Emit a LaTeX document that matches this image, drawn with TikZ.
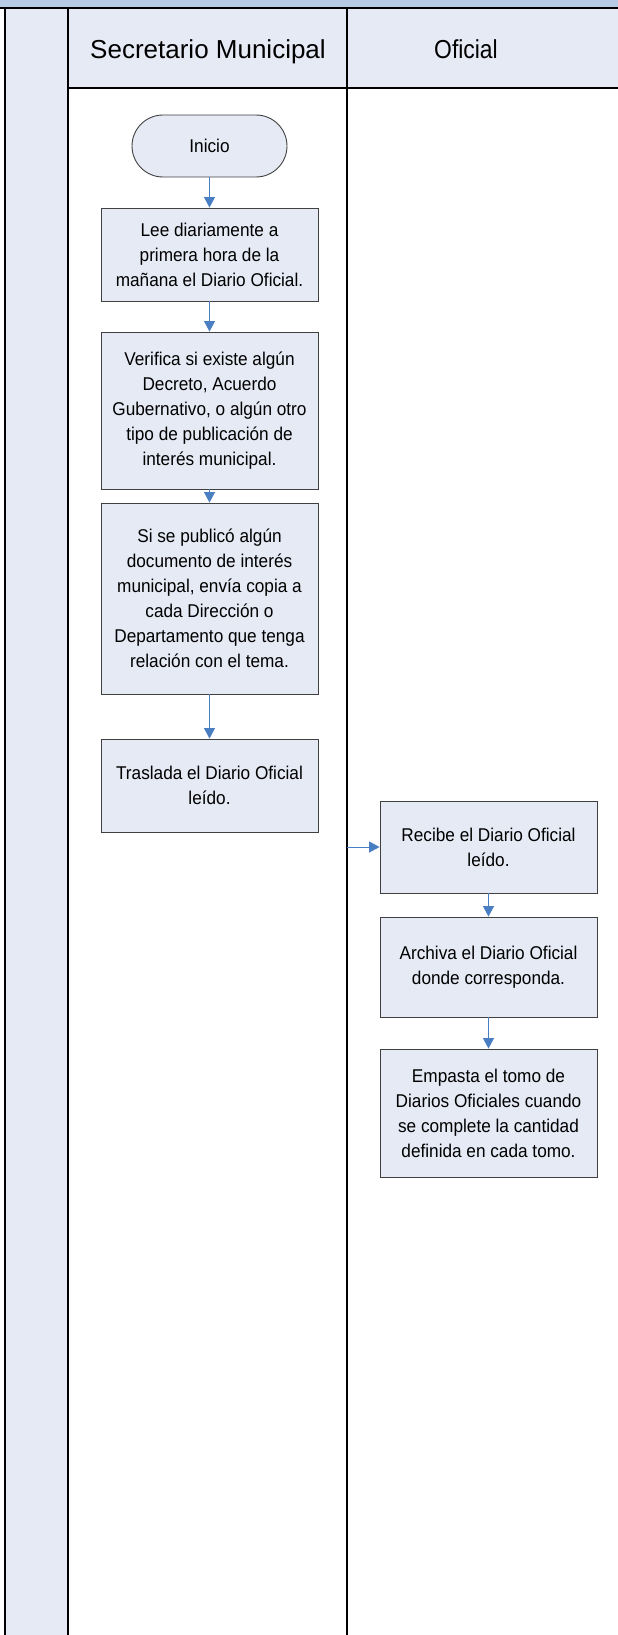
\documentclass[tikz,border=0pt]{standalone}
\usepackage{fontspec}
\setmainfont{Liberation Sans}
\newfontfamily\boxfont{Liberation Sans}[FakeStretch=0.93]
\usetikzlibrary{arrows.meta}
\definecolor{bandblue}{HTML}{B8CBE4}
\definecolor{lav}{HTML}{E6EAF5}
\definecolor{arrowblue}{HTML}{4A7EC3}
\definecolor{boxline}{HTML}{404040}
\tikzset{
  procbox/.style={draw=boxline, line width=0.9pt, fill=lav, minimum width=217pt, inner sep=0pt, align=center, font=\boxfont\fontsize{18.5}{25}\selectfont},
  startbox/.style={draw=boxline, line width=0.9pt, fill=lav, minimum width=155pt, minimum height=62pt, rounded corners=31pt, inner sep=0pt, align=center, font=\boxfont\fontsize{18.5}{25}\selectfont},
  flow/.style={draw=arrowblue, line width=1pt, -{Triangle[length=10.5pt,width=11pt]}},
  laneline/.style={draw=black, line width=1.3pt},
  headtext/.style={font=\fontsize{26}{30}\selectfont, inner sep=0pt, anchor=base}
}
\begin{document}
\begin{tikzpicture}[x=1pt,y=-1pt]
\useasboundingbox (0,0) rectangle (618,1635);
% backgrounds
\fill[bandblue] (0,0) rectangle (618,8);
\fill[lav] (5,8) rectangle (68,1635);
\fill[lav] (68,8) rectangle (618,88);
% lane lines
\draw[laneline] (0,8) -- (618,8);
\draw[laneline] (5,8) -- (5,1635);
\draw[laneline] (68,8) -- (68,1635);
\draw[laneline] (347,8) -- (347,1635);
\draw[laneline] (68,88) -- (618,88);
% headers
\node[headtext] (h1) at (208,59) {Secretario Municipal};
\node[headtext, xscale=0.88] (h2) at (466,59) {Oficial};
% nodes
\node[startbox] (inicio) at (209.5,146) {Inicio};
\node[procbox, minimum height=93pt] (lee) at (209.5,254.5) {Lee diariamente a\\primera hora de la\\mañana el Diario Oficial.};
\node[procbox, minimum height=157pt] (verifica) at (209.5,410.5) {Verifica si existe algún\\Decreto, Acuerdo\\Gubernativo, o algún otro\\tipo de publicación de\\interés municipal.};
\node[procbox, minimum height=191pt] (envia) at (209.5,598.5) {Si se publicó algún\\documento de interés\\municipal, envía copia a\\cada Dirección o\\Departamento que tenga\\relación con el tema.};
\node[procbox, minimum height=93pt] (traslada) at (209.5,785.5) {Traslada el Diario Oficial\\leído.};
\node[procbox, minimum height=92pt] (recibe) at (488.5,847) {Recibe el Diario Oficial\\leído.};
\node[procbox, minimum height=100pt] (archiva) at (488.5,967) {Archiva el Diario Oficial\\donde corresponda.};
\node[procbox, minimum height=128pt] (empasta) at (488.5,1113) {Empasta el tomo de\\Diarios Oficiales cuando\\se complete la cantidad\\definida en cada tomo.};
% connectors
\coordinate (cross) at (347,847);
\draw[flow] (inicio) -- (lee);
\draw[flow] (lee) -- (verifica);
\draw[flow] (verifica) -- (envia);
\draw[flow] (envia) -- (traslada);
\draw[flow] (cross) -- (recibe);
\draw[flow] (recibe) -- (archiva);
\draw[flow] (archiva) -- (empasta);
\end{tikzpicture}
\end{document}
